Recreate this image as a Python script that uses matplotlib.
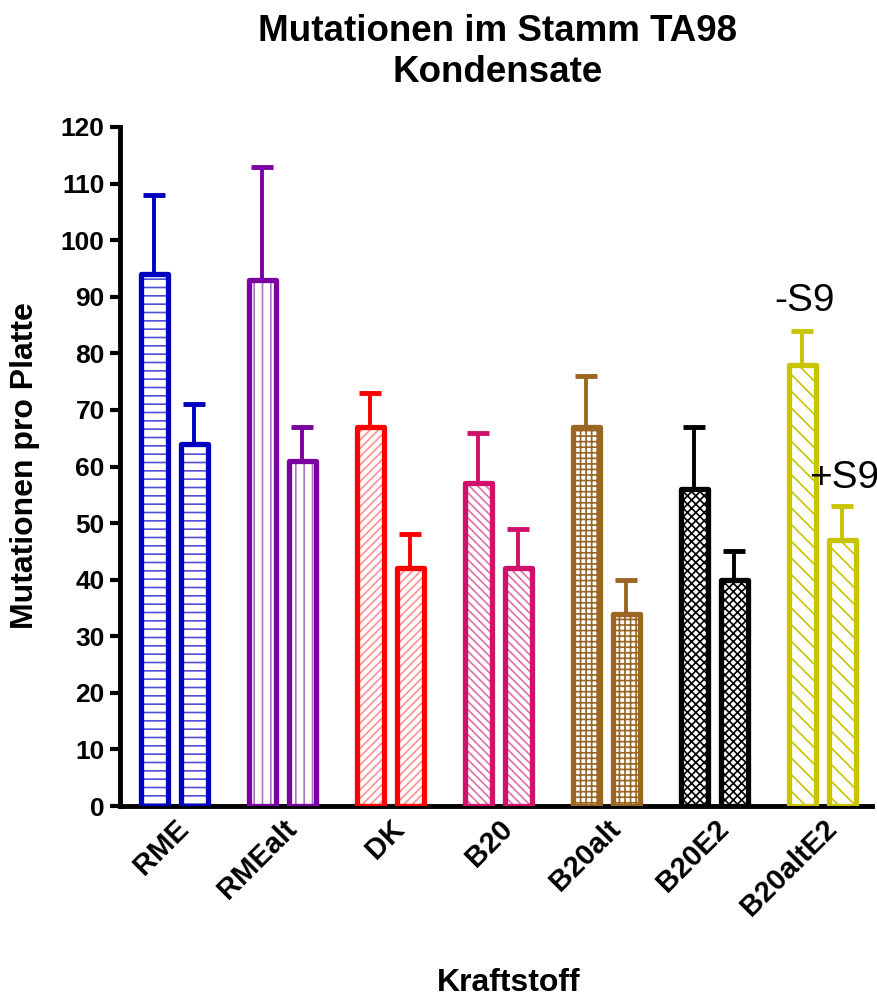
import matplotlib
matplotlib.use("Agg")
import matplotlib.pyplot as plt
import numpy as np

plt.rcParams['font.family'] = ['Liberation Sans', 'DejaVu Sans']
plt.rcParams['hatch.linewidth'] = 1.2

categories = ["RME", "RMEalt", "DK", "B20", "B20alt", "B20E2", "B20altE2"]
minus_s9 = [94, 93, 67, 57, 67, 56, 78]
minus_s9_err = [14, 20, 6, 9, 9, 11, 6]
plus_s9 = [64, 61, 42, 42, 34, 40, 47]
plus_s9_err = [7, 6, 6, 7, 6, 5, 6]
yticks = list(range(0, 121, 10))

colors = ["#0000C0", "#7A00A0", "#FF0000", "#D0106A", "#9A6622", "#000000", "#C8C400"]
hatch_colors = ["#5050D8", "#B070C8", "#FF9090", "#E070A0", "#9A6622", "#000000", "#C8C400"]
hatches = ["--", "||", "////", "\\\\\\\\", "+++", "xxxx", "\\\\"]

W, H = 878, 999
fig = plt.figure(figsize=(W / 100, H / 100), dpi=100)
ax = fig.add_axes([120 / W, 1 - 806 / H, (872 - 120) / W, (806 - 127) / H])

x = np.arange(len(categories))
off = 0.185
w = 0.25
for i in range(len(categories)):
    for xs, v, e in ((x[i] - off, minus_s9[i], minus_s9_err[i]), (x[i] + off, plus_s9[i], plus_s9_err[i])):
        ax.bar(xs, v, width=w, color='white', edgecolor=hatch_colors[i], hatch=hatches[i], linewidth=0, zorder=2)
        ax.bar(xs, v, width=w, fill=False, edgecolor=colors[i], linewidth=3.8, joinstyle='round', zorder=3)
        ax.errorbar(xs, v, yerr=[[0], [e]], fmt='none', ecolor=colors[i], elinewidth=2.8,
                    capsize=8, capthick=3.5, zorder=4)

ax.set_xlim(-0.5, 6.46)
ax.set_ylim(0, 120)
ax.set_yticks(yticks)
ax.set_yticklabels([str(t) for t in yticks], fontsize=19, fontweight='bold')
ax.set_xticks(x)
ax.set_xticklabels(categories, fontsize=21, fontweight='bold', rotation=45, ha='right', rotation_mode='anchor')
ax.tick_params(axis='x', length=0, pad=6)
ax.tick_params(axis='y', length=7, width=3, pad=4)
for s in ('top', 'right'):
    ax.spines[s].set_visible(False)
for s in ('left', 'bottom'):
    ax.spines[s].set_linewidth(3.5)

fig.text(25 / W, 1 - 466 / H, "Mutationen pro Platte", fontsize=23, fontweight='bold',
         rotation=90, ha='center', va='center')
fig.text(509 / W, 1 - 983 / H, "Kraftstoff", fontsize=23, fontweight='bold', ha='center', va='center')
fig.text(498 / W, 1 - 52 / H, "Mutationen im Stamm TA98\nKondensate", fontsize=26.5, fontweight='bold',
         ha='center', va='center', multialignment='center', linespacing=1.25)

ax.text(x[6] - off + 0.02, 86, "-S9", fontsize=28, ha='center', va='bottom')
ax.text(x[6] + off + 0.02, 54.8, "+S9", fontsize=28, ha='center', va='bottom')

fig.savefig("out.png", dpi=100)
